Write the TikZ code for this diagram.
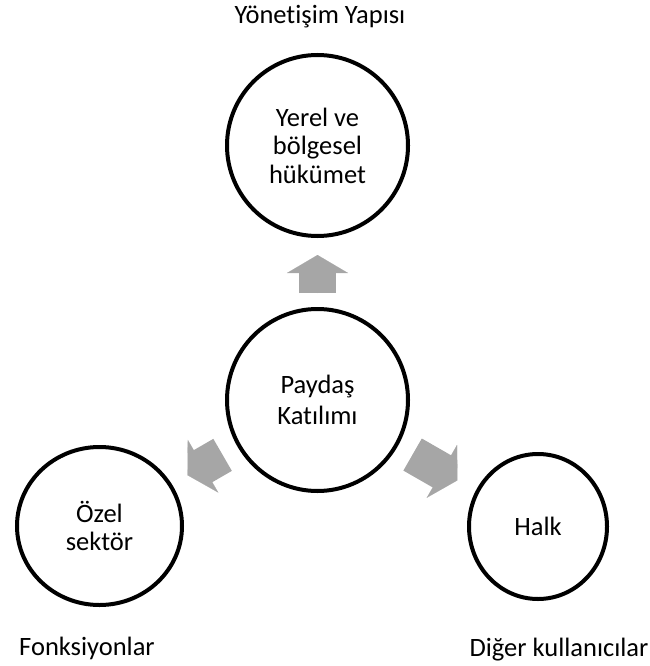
\documentclass[tikz,border=0pt]{standalone}
\usepackage{fontspec}
\setmainfont{Carlito}[Ligatures={NoCommon}]
\usetikzlibrary{arrows.meta,shapes.geometric}
\definecolor{pushgray}{RGB}{166,166,166}
\newcommand{\partyfont}{\fontsize{26.5}{28.5}\selectfont}

\begin{document}
\begin{tikzpicture}
        [   x = 1pt
        ,   y = -1pt
        ,   party/.style =
            {   draw
            ,   ellipse
            ,   line width = 4pt
            ,   align = center
            ,   inner sep = 0pt
            ,   font = \partyfont
            }
        ,   pushshaft/.style =
            {   draw = pushgray
            ,   line width = 37pt
            ,   line cap = butt
            }
        ,   pushhead/.style =
            {   draw = pushgray
            ,   fill = pushgray
            ,   line width = 0.1pt
            ,   -{Triangle[width = 61pt, length = 18pt]}
            }
        ,   role/.style =
            {   anchor = base
            ,   inner sep = 0pt
            ,   font = \partyfont
            }
        ]
        \useasboundingbox (0,0) rectangle (649,666);
        \node [party, minimum width = 181pt, minimum height = 181pt] (gov)
            at (317.5,145.5) {Yerel ve\\bölgesel\\hükümet};
        \node [party, minimum width = 181pt, minimum height = 182pt] (hub)
            at (317.5,400) {Paydaş\\[2.5pt]Katılımı};
        \node [party, minimum width = 165pt, minimum height = 158pt] (private)
            at (99.5,526) {Özel\\sektör};
        \node [party, minimum width = 138pt, minimum height = 145pt] (halk)
            at (538,526.5) {Halk};
        % gray block arrows: shaft, then head
        \foreach \goal/\gapstart/\gapend/\shaftend in
            {gov/14pt/17pt/34pt, private/17pt/18pt/35pt, halk/17pt/21pt/38pt}
        {   \draw [pushshaft, shorten <= \gapstart, shorten >= \shaftend] (hub) -- (\goal);
            \draw [pushhead, shorten <= \gapstart, shorten >= \gapend] (hub) -- (\goal);
        }
        \node [role] (govrole) at (320,24) {Yönetişim Yapısı};
        \node [role] (privaterole) at (87,655) {Fonksiyonlar};
        \node [role] (halkrole) at (559,656) {Diğer kullanıcılar};
\end{tikzpicture}
\end{document}
